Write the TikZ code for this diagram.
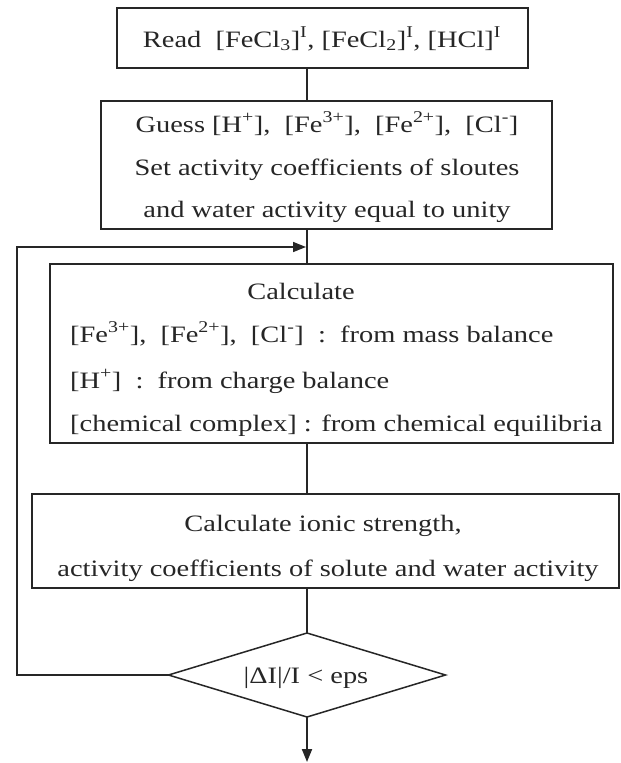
\documentclass[tikz,border=0pt]{standalone}
\usepackage{fontspec}
\setmainfont{Liberation Serif}[FakeStretch=1.21]
\usetikzlibrary{shapes.geometric,arrows.meta}
\begin{document}
\begin{tikzpicture}[x=1pt,y=-1pt,
  box/.style={draw=black!85, line width=2.6pt, inner sep=0pt, outer sep=0pt},
  dec/.style={draw=black!85, line width=1.5pt, diamond, aspect=3.3, inner sep=0pt, outer sep=0pt, minimum width=277pt, minimum height=84pt},
  conn/.style={draw=black!85, line width=2pt},
  fb/.style={draw=black!85, line width=1.5pt},
  tip/.style={-{Triangle[length=13pt,width=10pt]}},
  txt/.style={inner sep=0pt, anchor=base, text=black!85, font=\fontsize{23.5}{28}\selectfont},
  ltxt/.style={txt, anchor=base west}]
\useasboundingbox (0,0) rectangle (621,763);
\fill[white] (0,0) rectangle (621,763);

% boxes
\node[box, minimum width=411pt, minimum height=60pt]  (b1) at (322.5,38) {};
\node[box, minimum width=451pt, minimum height=128pt] (b2) at (326.5,165) {};
\node[box, minimum width=563pt, minimum height=179pt] (b3) at (331.5,353.5) {};
\node[box, minimum width=587pt, minimum height=94pt]  (b4) at (325.5,541) {};
\node[dec] (d) at (307,675) {};

% texts
\node[txt] (t1) at (322,47) {Read\ \ [FeCl\textsubscript{3}]\textsuperscript{I}, [FeCl\textsubscript{2}]\textsuperscript{I}, [HCl]\textsuperscript{I}};
\node[txt] (t2a) at (327,132) {Guess [H\textsuperscript{+}],\ \ [Fe\textsuperscript{3+}],\ \ [Fe\textsuperscript{2+}],\ \ [Cl\textsuperscript{-}]};
\node[txt] (t2b) at (327,175) {Set activity coefficients of sloutes};
\node[txt] (t2c) at (327,217) {and water activity equal to unity};
\node[txt] (t3a) at (301,299) {Calculate};
\node[ltxt] (t3b) at (70,342) {[Fe\textsuperscript{3+}],\ \ [Fe\textsuperscript{2+}],\ \ [Cl\textsuperscript{-}]\ \ :\ \ from mass balance};
\node[ltxt] (t3c) at (70,388) {[H\textsuperscript{+}]\ \ :\ \ from charge balance};
\node[ltxt] (t3d) at (70,431) {[chemical complex] : from chemical equilibria};
\node[txt] (t4a) at (323,531) {Calculate ionic strength,};
\node[txt] (t4b) at (328,576) {activity coefficients of solute and water activity};
\node[txt] (dt) at (306,683) {|ΔI|/I < eps};

% connectors
\coordinate (cx) at (307,0);
\coordinate (dend) at (307,762);
\coordinate (fbl) at (17,675);
\coordinate (fbt) at (17,247);
\coordinate (fbe) at (306,247);
\draw[conn] (b1.south -| cx) -- (b2.north -| cx);
\draw[conn] (b2.south -| cx) -- (b3.north -| cx);
\draw[conn] (b3.south -| cx) -- (b4.north -| cx);
\draw[conn] (b4.south -| cx) -- (d.north);
\draw[conn, tip] (d.south) -- (dend);
\draw[fb, tip] (d.west) -- (fbl) -- (fbt) -- (fbe);
\end{tikzpicture}
\end{document}
